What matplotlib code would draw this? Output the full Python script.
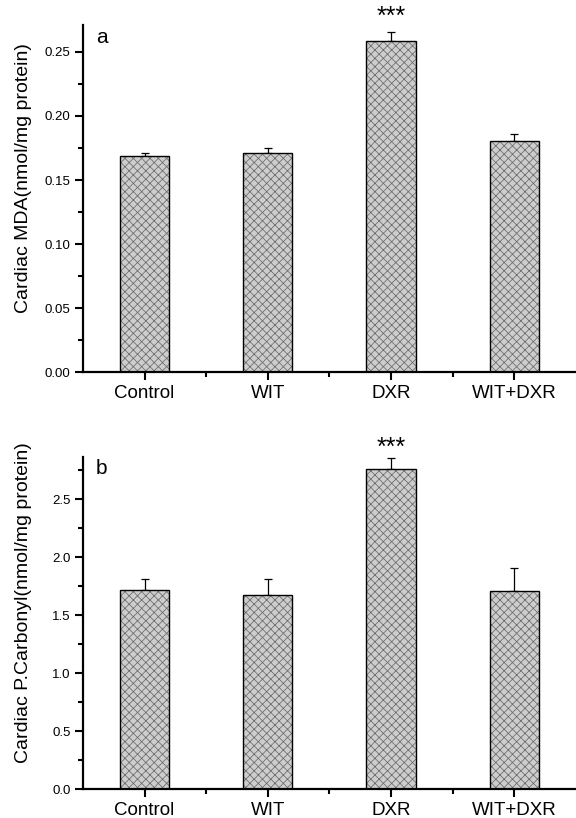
import matplotlib
matplotlib.use("Agg")
import matplotlib.pyplot as plt

plt.rcParams['font.family'] = ['Liberation Sans', 'DejaVu Sans']
plt.rcParams['hatch.linewidth'] = 0.55

groups = ["Control", "WIT", "DXR", "WIT+DXR"]

# panel a - cardiac MDA
mda_mean = [0.169, 0.171, 0.2586, 0.1805]
mda_err = [0.002, 0.004, 0.007, 0.0055]

# panel b - cardiac protein carbonyl
pc_mean = [1.714, 1.671, 2.756, 1.705]
pc_err = [0.10, 0.14, 0.10, 0.20]

stars = ["", "", "***", ""]

panels = [
    ("a", "Cardiac MDA(nmol/mg protein)", mda_mean, mda_err,
     0.271, 0.05, [0.545, 0.9694], 11),
    ("b", "Cardiac P.Carbonyl(nmol/mg protein)", pc_mean, pc_err,
     2.865, 0.5, [0.0351, 0.4417], 7),
]

fig = plt.figure(figsize=(5.76, 8.18), dpi=100)
x = list(range(len(groups)))

for letter, ylab, mean, err, ytop, ystep, (bot, top), star_off in panels:
    ax = fig.add_axes([0.144, bot, 1 - 0.144, top - bot])
    # hatched fill, then black outline on top
    ax.bar(x, mean, width=0.4, color='#cdcdcd', edgecolor='#6a6a6a',
           hatch='xxxx', linewidth=0, zorder=2)
    ax.bar(x, mean, width=0.4, fill=False, edgecolor='black',
           linewidth=1.0, zorder=3)
    ax.errorbar(x, mean, yerr=[[0] * len(err), err], fmt='none',
                ecolor='black', elinewidth=0.9, capsize=3, capthick=0.9,
                zorder=1)
    for i, s in enumerate(stars):
        if s:
            ax.annotate(s, (x[i], mean[i] + err[i]), xytext=(0, star_off),
                        textcoords='offset points', ha='center', va='center',
                        fontsize=18, annotation_clip=False)

    ax.set_xlim(-0.5, 3.5)
    ax.set_ylim(0, ytop)
    ax.set_xticks(x)
    ax.set_xticklabels(groups, fontsize=13.5)
    ax.set_xticks([0.5, 1.5, 2.5], minor=True)
    n = int(ytop / ystep) + 1
    ticks = [round(i * ystep, 3) for i in range(n)]
    ax.set_yticks(ticks)
    if ystep < 0.1:
        ax.set_yticklabels(["%.2f" % t for t in ticks])
    else:
        ax.set_yticklabels(["%.1f" % t for t in ticks])
    ax.set_yticks([t + ystep / 2 for t in ticks if t + ystep / 2 < ytop], minor=True)
    ax.tick_params(axis='y', which='major', labelsize=9.5, length=6, width=1.5, pad=3)
    ax.tick_params(axis='y', which='minor', length=3.5, width=1.5)
    ax.tick_params(axis='x', which='major', length=6, width=1.5, pad=3)
    ax.tick_params(axis='x', which='minor', length=3.5, width=1.5)

    for sp in ['top', 'right']:
        ax.spines[sp].set_visible(False)
    for sp in ['left', 'bottom']:
        ax.spines[sp].set_linewidth(1.6)

    ax.set_ylabel(ylab, fontsize=14)
    ax.yaxis.set_label_coords(-0.103, 0.56)
    ax.text(0.026, 0.965, letter, transform=ax.transAxes, fontsize=15,
            ha='left', va='center')

fig.savefig("out.png", dpi=100)
